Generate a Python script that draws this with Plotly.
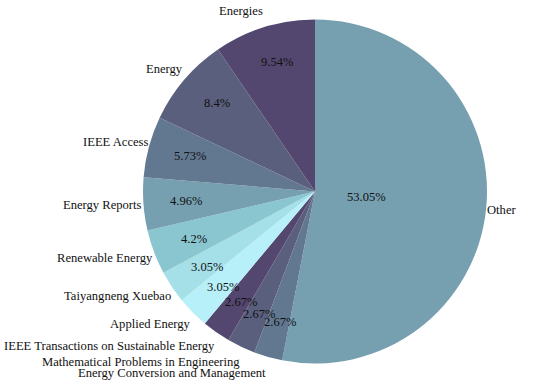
import math
import plotly.graph_objects as go

labels = ["Energies", "Energy", "IEEE Access", "Energy Reports", "Renewable Energy",
          "Taiyangneng Xuebao", "Applied Energy", "IEEE Transactions on Sustainable Energy",
          "Mathematical Problems in Engineering", "Energy Conversion and Management", "Other"]
values = [9.54, 8.4, 5.73, 4.96, 4.2, 3.05, 3.05, 2.67, 2.67, 2.67, 53.05]
palette = ["#54476f", "#5b5f7e", "#627891", "#769fb0", "#8ac6d0", "#a5dfe8", "#b8f0fa"]
colors = [palette[i % len(palette)] for i in range(len(values))]

W, H = 550, 384
cx, cy, R = 315, 191.5, 172

# slices run counterclockwise from 12 o'clock; plotly draws clockwise, so feed reversed order
fig = go.Figure(go.Pie(
    labels=labels[::-1], values=values[::-1], sort=False, direction="clockwise", rotation=0,
    marker=dict(colors=colors[::-1], line=dict(width=0)),
    textinfo="none", hoverinfo="label+value", showlegend=False,
    domain=dict(x=[(cx - R) / W, (cx + R) / W], y=[1 - (cy + R) / H, 1 - (cy - R) / H]),
))

font_lab = dict(family="Liberation Serif, Times New Roman, serif", size=12.6, color="#111111")
font_pct = dict(family="Liberation Serif, Times New Roman, serif", size=12.5, color="#111111")

total = sum(values)
cum = 0.0
annotations = []
for lab, v in zip(labels, values):
    mid = (cum + v / 2) / total * 2 * math.pi
    cum += v
    s, c = math.sin(mid), math.cos(mid)
    lx = cx - 171 * s
    ly = cy - 189 * c
    annotations.append(dict(
        x=lx / W, y=1 - ly / H, xref="paper", yref="paper", text=lab, showarrow=False,
        xanchor="right" if s > 0 else "left", yanchor="middle", font=font_lab))
    d = 0.31 if lab == "Other" else 0.77
    px = cx - d * 168 * s
    py = cy - d * 176 * c
    annotations.append(dict(
        x=px / W, y=1 - py / H, xref="paper", yref="paper", text="%g%%" % v, showarrow=False,
        xanchor="center", yanchor="middle", font=font_pct))

fig.update_layout(
    width=W, height=H, margin=dict(l=0, r=0, t=0, b=0),
    paper_bgcolor="white", plot_bgcolor="white", annotations=annotations,
)
fig.write_html("out.html", config={"displayModeBar": False},
               post_script="document.body.style.margin='0';")
